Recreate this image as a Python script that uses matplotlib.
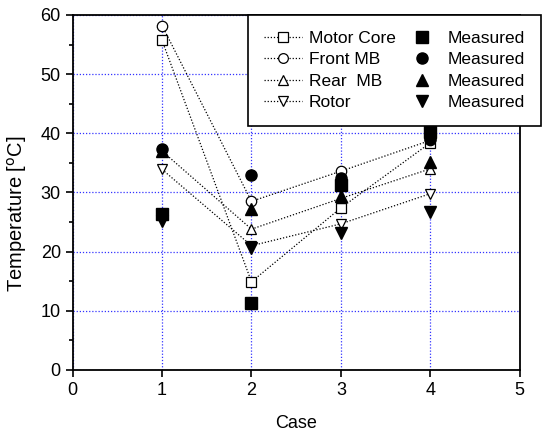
import numpy as np
import matplotlib.pyplot as plt
from matplotlib.ticker import MultipleLocator

plt.rcParams['font.family'] = ['Liberation Sans', 'DejaVu Sans']

# Data
cases = [1, 2, 3, 4]
names = ['Motor Core', 'Front MB', 'Rear  MB', 'Rotor']
sim_motor = [55.7, 14.9, 27.4, 38.4]
sim_front = [58.2, 28.5, 33.6, 38.8]
sim_rear = [37.0, 23.8, 29.0, 34.0]
sim_rotor = [33.9, 21.0, 24.7, 29.8]
meas_motor = [26.4, 11.4, 31.2, 40.2]
meas_front = [37.4, 33.0, 32.4, 39.0]
meas_rear = [37.0, 27.2, 29.4, 35.1]
meas_rotor = [25.2, 20.6, 23.2, 26.7]

markers = ['s', 'o', '^', 'v']
sims = [sim_motor, sim_front, sim_rear, sim_rotor]
meas = [meas_motor, meas_front, meas_rear, meas_rotor]

fig = plt.figure(figsize=(5.46, 4.33), dpi=100)
ax = fig.add_axes([0.133, 0.1455, 0.819, 0.82])

sim_handles = []
meas_handles = []
for nm, mk, s in zip(names, markers, sims):
    h, = ax.plot(cases, s, linestyle=(0, (1, 1.5)), color='black', linewidth=0.9,
                 marker=mk, markersize=7.5, markerfacecolor='white',
                 markeredgecolor='black', markeredgewidth=0.9, label=nm, zorder=3)
    sim_handles.append(h)
for mk, m in zip(markers, meas):
    h, = ax.plot(cases, m, linestyle='none', marker=mk, markersize=8,
                 color='black', label='Measured', zorder=4)
    meas_handles.append(h)

ax.set_xlim(0, 5)
ax.set_ylim(0, 60)
ax.xaxis.set_major_locator(MultipleLocator(1))
ax.yaxis.set_major_locator(MultipleLocator(10))
ax.yaxis.set_minor_locator(MultipleLocator(5))
ax.tick_params(axis='both', which='major', direction='out', length=5, width=1.2, labelsize=13)
ax.tick_params(axis='y', which='minor', direction='out', length=3, width=1.2)
ax.tick_params(top=False, right=False)
ax.grid(True, which='major', color='#3333ff', linestyle=(0, (1, 1.5)), linewidth=0.9)
for sp in ax.spines.values():
    sp.set_linewidth(1.3)

ax.set_xlabel('Case', fontsize=13, labelpad=12)
ax.set_ylabel('Temperature [$^{\\rm o}$C]', fontsize=14.5)
ax.yaxis.set_label_coords(-0.098, 0.44)

handles = sim_handles + meas_handles
labels = names + ['Measured'] * 4
leg = fig.legend(handles, labels, ncol=2, loc='upper left',
                 bbox_to_anchor=(248 / 546, 1 - 15 / 433), fontsize=12.5,
                 frameon=True, fancybox=False, edgecolor='black', framealpha=1,
                 borderaxespad=0, handlelength=2.2, handletextpad=0.4,
                 labelspacing=0.36, columnspacing=0.4, borderpad=0.9)
leg.get_frame().set_linewidth(1.2)
for h in leg.legend_handles[:4]:
    h.set_markersize(7)
for h in leg.legend_handles[4:]:
    h.set_markersize(8)

plt.savefig('out.png', dpi=100)
